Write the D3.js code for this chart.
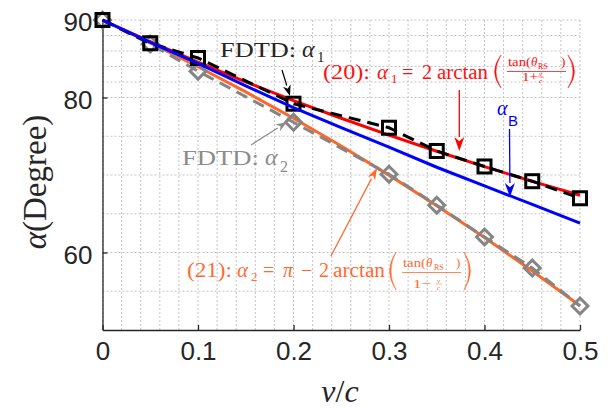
<!DOCTYPE html>
<html>
<head>
<meta charset="utf-8">
<script src="https://cdn.jsdelivr.net/npm/d3@7"></script>
<style>
  body { margin: 0; background: #fff; }
  svg { display: block; }
</style>
</head>
<body>
<div id="chart"></div>
<script>
// values
const vc = [0, 0.05, 0.1, 0.15, 0.2, 0.25, 0.3, 0.35, 0.4, 0.45, 0.5];
const alpha1Theory = [90, 87.21, 84.55, 82.02, 79.61, 77.32, 75.14, 73.06, 71.08, 69.18, 67.38];
const alpha2Theory = [90, 87.05, 83.97, 80.72, 77.32, 73.74, 69.98, 66.04, 61.93, 57.62, 53.13];
const alphaB = [90, 87.1, 84.4, 81.5, 78.7, 76.1, 73.6, 71.0, 68.6, 66.2, 63.8];
const fdtdV = [0, 0.05, 0.1, 0.2, 0.3, 0.35, 0.4, 0.45, 0.5];
const fdtdAlpha1 = [90, 87.0, 85.1, 79.2, 76.1, 73.1, 71.1, 69.2, 67.0];
const fdtdAlpha2 = [90, 86.9, 83.4, 76.8, 70.1, 66.1, 62.0, 58.0, 53.1];
const xTicks = [0, 0.1, 0.2, 0.3, 0.4, 0.5];
const xTickLabels = ["0", "0.1", "0.2", "0.3", "0.4", "0.5"];
const yTicks = [60, 80, 90];
const yTickLabels = ["60", "80", "90"];
const xGrid = d3.range(0, 26).map(i => i * 0.02);
const yGrid = [55, 60, 65, 70, 75, 80, 82, 84, 86, 88, 90];

const width = 613, height = 410;
const margin = { top: 20, right: 33, bottom: 80, left: 102.5 };

const svg = d3.select("#chart").append("svg")
    .attr("width", width).attr("height", height);

const x = d3.scaleLinear().domain([0, 0.5]).range([margin.left, width - margin.right]);
const y = d3.scaleLinear().domain([50, 90]).range([height - margin.bottom, margin.top]);

const serif = "'Liberation Serif', 'DejaVu Serif', serif";
const sans = "'Liberation Sans', Arial, sans-serif";
const axisColor = "#262626";

// grid
svg.append("g").selectAll("line").data(xGrid).enter().append("line")
    .attr("x1", d => x(d)).attr("x2", d => x(d))
    .attr("y1", y(50)).attr("y2", y(90))
    .attr("stroke", "#c4c4c4").attr("stroke-width", 1).attr("stroke-dasharray", "2,2");
svg.append("g").selectAll("line").data(yGrid).enter().append("line")
    .attr("x1", x(0)).attr("x2", x(0.5))
    .attr("y1", d => y(d)).attr("y2", d => y(d))
    .attr("stroke", "#c4c4c4").attr("stroke-width", 1).attr("stroke-dasharray", "2,2");

// axes
const xAxis = d3.axisBottom(x).tickValues(xTicks).tickSizeInner(-5).tickSizeOuter(0)
    .tickFormat((d, i) => xTickLabels[i]).tickPadding(14);
const gx = svg.append("g").attr("transform", `translate(0,${y(50)})`).call(xAxis);
const yAxis = d3.axisLeft(y).tickValues(yTicks).tickSizeInner(-5).tickSizeOuter(0)
    .tickFormat((d, i) => yTickLabels[i]).tickPadding(10);
const gy = svg.append("g").attr("transform", `translate(${x(0)},0)`).call(yAxis);
[gx, gy].forEach(g => {
    g.select(".domain").attr("stroke", axisColor).attr("stroke-width", 1.3);
    g.selectAll(".tick line").attr("stroke", axisColor).attr("stroke-width", 1.3);
    g.selectAll(".tick text").attr("fill", axisColor).attr("font-size", 26).attr("font-family", sans);
});
gy.selectAll(".tick text").attr("dy", "0.42em");
gx.selectAll(".tick text").attr("dy", "0.62em");

const line = d3.line().x(d => x(d[0])).y(d => y(d[1]));

// theory curves
svg.append("path").datum(vc.map((v, i) => [v, alpha1Theory[i]])).attr("d", line)
    .attr("fill", "none").attr("stroke", "#ff0000").attr("stroke-width", 3);
svg.append("path").datum(vc.map((v, i) => [v, alpha2Theory[i]])).attr("d", line)
    .attr("fill", "none").attr("stroke", "#ff6628").attr("stroke-width", 3);

// FDTD alpha2
svg.append("path").datum(fdtdV.map((v, i) => [v, fdtdAlpha2[i]])).attr("d", line)
    .attr("fill", "none").attr("stroke", "#858585").attr("stroke-width", 3)
    .attr("stroke-dasharray", "12,7");
svg.append("g").selectAll("path").data(fdtdV.map((v, i) => [v, fdtdAlpha2[i]])).enter()
    .append("path")
    .attr("d", d3.symbol().type(d3.symbolDiamond2).size(160))
    .attr("transform", d => `translate(${x(d[0])},${y(d[1])})`)
    .attr("fill", "none").attr("stroke", "#858585").attr("stroke-width", 3);

// FDTD alpha1
svg.append("path").datum(fdtdV.map((v, i) => [v, fdtdAlpha1[i]])).attr("d", line)
    .attr("fill", "none").attr("stroke", "#000").attr("stroke-width", 3)
    .attr("stroke-dasharray", "12,7");
svg.append("g").selectAll("rect").data(fdtdV.map((v, i) => [v, fdtdAlpha1[i]])).enter()
    .append("rect")
    .attr("x", d => x(d[0]) - 6.5).attr("y", d => y(d[1]) - 6.5)
    .attr("width", 13).attr("height", 13)
    .attr("fill", "none").attr("stroke", "#000").attr("stroke-width", 3);

// Brewster
svg.append("path").datum(vc.map((v, i) => [v, alphaB[i]])).attr("d", line)
    .attr("fill", "none").attr("stroke", "#0000ff").attr("stroke-width", 3);

// arrows
function arrow(x1, y1, x2, y2, color, w, hl, hw) {
    const a = Math.atan2(y2 - y1, x2 - x1);
    const bx = x2 - hl * Math.cos(a), by = y2 - hl * Math.sin(a);
    svg.append("line").attr("x1", x1).attr("y1", y1).attr("x2", bx).attr("y2", by)
        .attr("stroke", color).attr("stroke-width", w);
    const px = -Math.sin(a), py = Math.cos(a);
    const mx = x2 - hl * 0.7 * Math.cos(a), my = y2 - hl * 0.7 * Math.sin(a);
    svg.append("path")
        .attr("d", `M${x2},${y2}L${bx + px * hw / 2},${by + py * hw / 2}L${mx},${my}L${bx - px * hw / 2},${by - py * hw / 2}Z`)
        .attr("fill", color);
}
arrow(282, 70, 290, 96, "#000", 1.2, 11, 8);
arrow(251, 145, 287, 122, "#8c8c8c", 1.2, 11, 8);
arrow(459.3, 90, 459.3, 151, "#ff0000", 1.3, 14, 10);
arrow(509.5, 129, 510, 197, "#0000ff", 1.3, 14, 10);
arrow(331, 256, 377, 168, "#ff6628", 1.2, 12, 8);

// text helper
function txt(s, px, py, size, color, opts = {}) {
    const t = svg.append("text").attr("x", px).attr("y", py)
        .attr("font-family", opts.family || serif).attr("font-size", size)
        .attr("fill", color).text(s);
    if (opts.italic) t.attr("font-style", "italic");
    if (opts.len) t.attr("textLength", opts.len).attr("lengthAdjust", "spacingAndGlyphs");
    if (opts.anchor) t.attr("text-anchor", opts.anchor);
    return t;
}
// tall thin bracket, drawn as a crescent
function paren(cx, y0, y1, dir, color) {
    const w = 8 * dir, ym = (y0 + y1) / 2;
    svg.append("path")
        .attr("d", `M${cx},${y0}Q${cx - w * 1.6},${ym} ${cx},${y1}Q${cx - w * 1.25},${ym} ${cx},${y0}Z`)
        .attr("fill", color).attr("stroke", color).attr("stroke-width", 0.5);
}

// FDTD labels
txt("FDTD:", 220, 57, 22, "#262626", { len: 76 });
txt("α", 302, 57, 24, "#262626", { italic: true });
txt("1", 317, 61.5, 15, "#262626");
txt("FDTD:", 182, 165, 22, "#8c8c8c", { len: 77 });
txt("α", 265, 165, 24, "#8c8c8c", { italic: true });
txt("2", 280, 172, 16, "#8c8c8c");

// alpha_B
txt("α", 497, 115, 20, "#0000ff", { italic: true });
txt("B", 508, 126, 15, "#0000ff", { family: sans });

// (20) equation
const red = "#ff1010";
txt("(20):", 323, 79, 20, red, { len: 47 });
txt("α", 377, 79, 21, red, { italic: true });
txt("1", 391, 83, 13, red);
txt("=", 402, 79, 20, red);
txt("2", 422, 79, 20, red);
txt("arctan", 437, 79, 20, red, { len: 51 });
paren(501, 55, 88, 1, red);
paren(568, 55, 88, -1, red);
txt("tan(", 508, 66, 13, red, { len: 23 });
txt("θ", 531, 66, 13, red, { italic: true });
txt("RS", 538, 68.5, 8, red);
txt(")", 561, 66, 13, red);
svg.append("line").attr("x1", 507).attr("x2", 566).attr("y1", 71.5).attr("y2", 71.5)
    .attr("stroke", red).attr("stroke-width", 0.8);
txt("1+", 522, 81, 13, red, { len: 16 });
txt("v", 539, 75.5, 7, red, { italic: true });
svg.append("line").attr("x1", 538).attr("x2", 544).attr("y1", 77).attr("y2", 77)
    .attr("stroke", red).attr("stroke-width", 0.5);
txt("c", 539, 82.5, 7, red, { italic: true });

// (21) equation
const orange = "#ff6a30";
txt("(21):", 187, 277, 20, orange, { len: 45 });
txt("α", 237, 277, 21, orange, { italic: true });
txt("2", 251, 281, 13, orange);
txt("=", 263, 277, 20, orange);
txt("π", 283, 277, 20, orange, { italic: true });
txt("−", 301, 277, 20, orange);
txt("2", 319, 277, 20, orange);
txt("arctan", 333, 277, 20, orange, { len: 52 });
paren(396, 252, 290, 1, orange);
paren(464, 252, 290, -1, orange);
txt("tan(", 403, 267, 13, orange, { len: 23 });
txt("θ", 426, 267, 13, orange, { italic: true });
txt("RS", 434, 269.5, 8, orange);
txt(")", 456, 267, 13, orange);
svg.append("line").attr("x1", 402).attr("x2", 461).attr("y1", 272.5).attr("y2", 272.5)
    .attr("stroke", orange).attr("stroke-width", 0.8);
txt("1−", 413, 288, 13, orange, { len: 18 });
txt("v", 437, 282.5, 7, orange, { italic: true });
svg.append("line").attr("x1", 436).attr("x2", 442).attr("y1", 284).attr("y2", 284)
    .attr("stroke", orange).attr("stroke-width", 0.5);
txt("c", 437, 289.5, 7, orange, { italic: true });

// axis labels
svg.append("text").attr("transform", "translate(46,182) rotate(-90)")
    .attr("text-anchor", "middle").attr("font-family", serif).attr("font-size", 33)
    .attr("fill", axisColor)
    .call(t => {
        t.append("tspan").attr("font-style", "italic").text("α");
        t.append("tspan").text("(Degree)");
    });
svg.append("text").attr("x", 340).attr("y", 402).attr("text-anchor", "middle")
    .attr("font-family", serif).attr("font-size", 32).attr("fill", axisColor)
    .call(t => {
        t.append("tspan").attr("font-style", "italic").text("v");
        t.append("tspan").text("/");
        t.append("tspan").attr("font-style", "italic").text("c");
    });
</script>
</body>
</html>
